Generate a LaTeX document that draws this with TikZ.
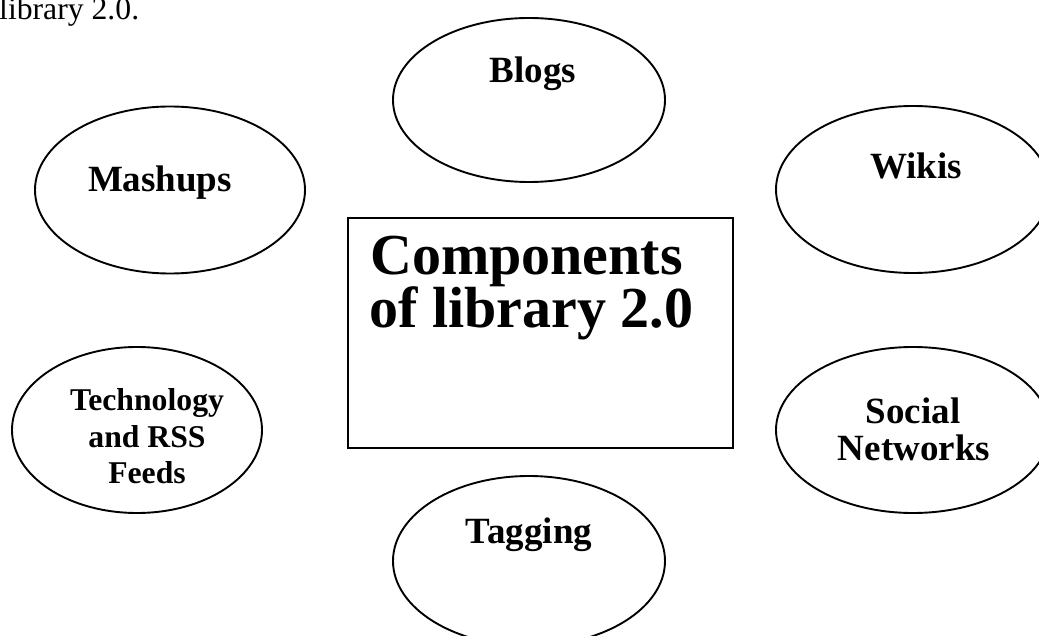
\documentclass[tikz,border=0pt]{standalone}
\usepackage{fontspec}
\setmainfont{Liberation Serif}
\usetikzlibrary{shapes.geometric}

\tikzset{
  oval/.style={draw, ellipse, line width=1.9pt, inner sep=0pt},
  lbl/.style={inner sep=0pt, anchor=base, font=\fontsize{37}{37}\selectfont\bfseries},
  smalllbl/.style={inner sep=0pt, anchor=base, font=\fontsize{31.7}{31.7}\selectfont\bfseries},
  biglbl/.style={inner sep=0pt, anchor=base west, font=\fontsize{58}{58}\selectfont\bfseries},
  bodytext/.style={inner sep=0pt, anchor=base west, font=\fontsize{31.7}{31.7}\selectfont},
  centrebox/.style={draw, line width=2pt}
}

\begin{document}
\begin{tikzpicture}[x=1pt, y=-1pt]
  \useasboundingbox (0,0) rectangle (1039,636);
  \clip (0,0) rectangle (1039,636);

  % caption fragment carried over from the preceding line
  \node[bodytext] (caption) at (-1,20) {library 2.0.};

  % central box
  \draw[centrebox] (348,218) rectangle (733,448);
  \node[biglbl] (title1) at (370,275) {Components};
  \node[biglbl] (title2) at (369,328) {of library 2.0};

  % component ellipses
  \node[oval, minimum width=272pt, minimum height=164pt] (blogs) at (529,100) {};
  \node[lbl] (blogsT) at (533,83) {Blogs};

  \node[oval, minimum width=270pt, minimum height=167pt] (mashups) at (170,190) {};
  \node[lbl] (mashupsT) at (160,192) {Mashups};

  \node[oval, minimum width=274pt, minimum height=167pt] (wikis) at (913,189.5) {};
  \node[lbl] (wikisT) at (916,179) {Wikis};

  \node[oval, minimum width=250pt, minimum height=166pt] (tech) at (137,430) {};
  \node[smalllbl] (tech1) at (147,410) {Technology};
  \node[smalllbl] (tech2) at (147,447) {and RSS};
  \node[smalllbl] (tech3) at (147,483) {Feeds};

  \node[oval, minimum width=274pt, minimum height=166pt] (social) at (913,430) {};
  \node[lbl] (social1) at (913,423) {Social};
  \node[lbl] (social2) at (914,460) {Networks};

  \node[oval, minimum width=272pt, minimum height=170pt] (tagging) at (529,561) {};
  \node[lbl] (taggingT) at (529,543) {Tagging};
\end{tikzpicture}
\end{document}
